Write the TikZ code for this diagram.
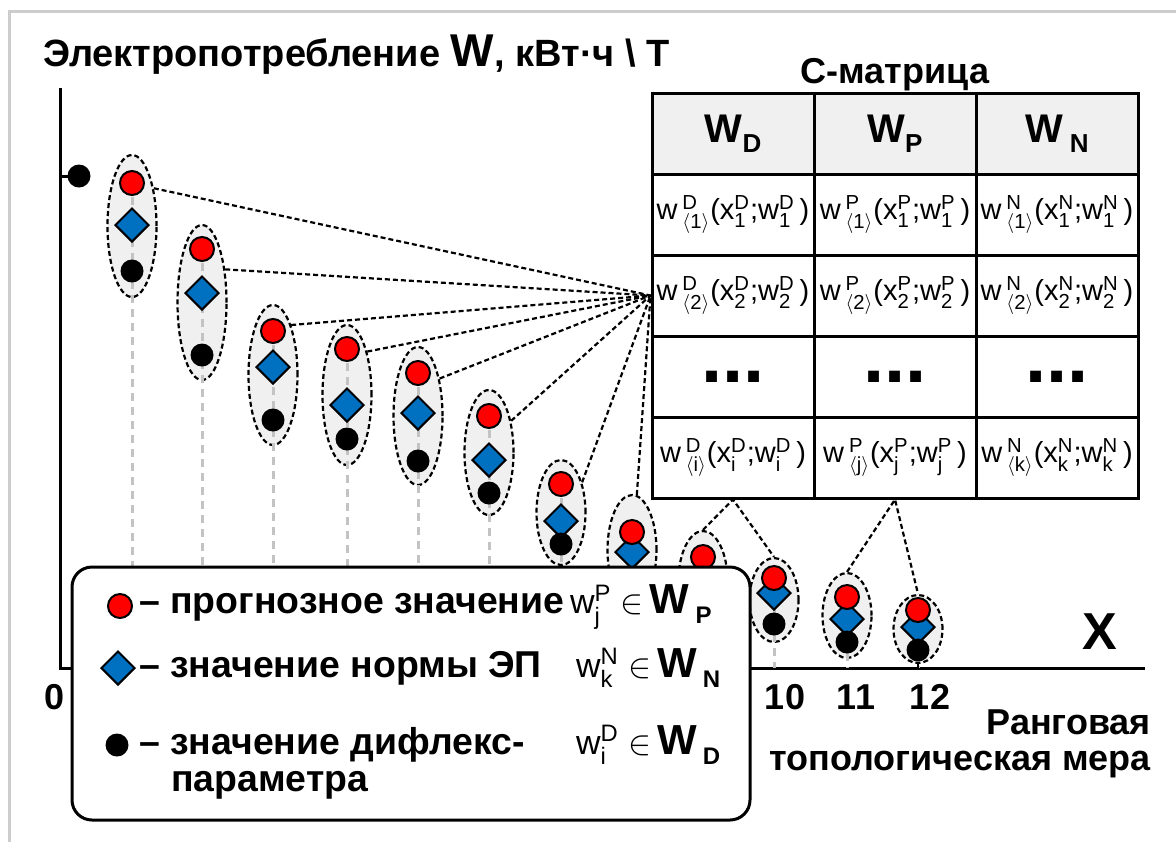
\documentclass[tikz,border=0pt]{standalone}
\usepackage{fontspec}
\usepackage{amsmath}
\setmainfont{Liberation Sans}
\usetikzlibrary{shapes.geometric}
\definecolor{cellgray}{RGB}{240,240,240}
\definecolor{stemgray}{RGB}{195,195,195}
\definecolor{framegray}{RGB}{205,205,205}
\definecolor{normblue}{RGB}{0,112,192}
\definecolor{progred}{RGB}{255,0,0}
% cell of the C-matrix: w^{set}_{<no>}(x^{set}_{idx};w^{set}_{idx})
\newcommand\wcell[3]{w\,$^{\text{#1}}_{\langle\text{#2}\rangle}$(x$^{\text{#1}}_{\text{#3}}$;w$^{\text{#1}}_{\text{#3}}$\,)}
\newcommand\wset[1]{{\fontsize{21}{22}\selectfont W}\,\raisebox{-5pt}{\fontsize{12}{12}\selectfont #1}}
\newcommand\wmemb[3]{{\mdseries\fontsize{17}{19}\selectfont w$^{\text{#1}}_{\text{#2}}$ $\in$}\,\wset{#3}}

\begin{document}
\begin{tikzpicture}[x=0.5pt, y=-0.5pt, font=\fontsize{18}{20}\selectfont\bfseries,
    axisline/.style={line width=1.5pt},
    stem/.style={draw=stemgray, line width=1.5pt, dash pattern=on 4pt off 3pt},
    grp/.style={ellipse, draw, fill=cellgray, line width=1.1pt, dash pattern=on 2.5pt off 1.5pt, inner sep=0pt},
    fan/.style={line width=1.1pt, dash pattern=on 2.5pt off 1.5pt},
    prog/.style={circle, draw, fill=progred, line width=1pt, minimum size=12pt, inner sep=0pt},
    norm/.style={diamond, draw, fill=normblue, line width=1pt, minimum size=17pt, inner sep=0pt},
    dfx/.style={circle, fill=black, minimum size=11.5pt, inner sep=0pt},
    legtext/.style={anchor=west, font=\fontsize{18.7}{20}\selectfont\bfseries},
    cell/.style={draw, fill=white, line width=1.5pt, minimum width=81pt, minimum height=40.5pt, inner sep=0pt, font=\fontsize{14.5}{16}\selectfont},
    dots/.style={cell, font=\fontsize{38}{38}\selectfont\bfseries},
    head/.style={cell, fill=cellgray, font=\fontsize{20}{20}\selectfont\bfseries}]
  \useasboundingbox (0,0) rectangle (1176,842);
  \draw[framegray, line width=1.5pt] (9,842) -- (9,11) -- (1176,11);

  % axes
  \draw[axisline] (60,88) -- (60,668) -- (1145,668);
  \draw[axisline] (60,176) -- (79,176);
  \node[dfx] (d0) at (79,176) {};
  \node at (55,697) {0};
  \node at (785,697) {10};
  \node at (856,697) {11};
  \node at (930,697) {12};
  \node at (1100,632) {\fontsize{26}{26}\selectfont X};
  \node[anchor=east] at (1158,722) {Ранговая};
  \node[anchor=east] at (1158,765) {топологическая мера};
  \node[anchor=west, font=\fontsize{19}{20}\selectfont\bfseries] at (36,55) {Электропотребление {\fontsize{23}{22}\selectfont W}, кВт·ч \textbackslash{} T};

  % groups of values
  \foreach \i/\x/\r/\d/\b/\t/\h in {1/132/183/225/271/155/297, 2/202/249/293/355/225/380,
      3/273/331/367/420/305/445, 4/347/349/405/439/325/465, 5/418/373/413/461/347/485,
      6/489/416/460/493/390/515, 7/561/484/521/544/460/565, 8/632/532/552/585/495/605,
      9/703/557/580/610/531/630, 10/774/578/593/624/558/642, 11/847/597/619/642/573/658,
      12/918/610/627/650/595/663}{
    \node[grp, minimum width=24.5pt, minimum height={(\h-\t)*0.5pt}] (e\i) at (\x,{(\t+\h)/2}) {};
    \draw[stem] (\x,\r) -- (\x,668);
    \node[norm] (n\i) at (\x,\d) {};
    \node[prog] (p\i) at (\x,\r) {};
    \node[dfx] (b\i) at (\x,\b) {};
  }
  \draw[line width=1pt] (b12) -- (918,668);

  % C-matrix
  \node at (895,75) {С-матрица};
  \node[head] (hD) at (733,133.5) {W\raisebox{-5pt}{\fontsize{13}{13}\selectfont D}};
  \node[head] (hP) at (895,133.5) {W\raisebox{-5pt}{\fontsize{13}{13}\selectfont P}};
  \node[head] (hN) at (1057,133.5) {W\,\raisebox{-5pt}{\fontsize{13}{13}\selectfont N}};
  \node[cell] (r1D) at (733,214.5) {\wcell{D}{1}{1}};
  \node[cell] (r1P) at (895,214.5) {\wcell{P}{1}{1}};
  \node[cell] (r1N) at (1057,214.5) {\wcell{N}{1}{1}};
  \node[cell] (r2D) at (733,295.5) {\wcell{D}{2}{2}};
  \node[cell] (r2P) at (895,295.5) {\wcell{P}{2}{2}};
  \node[cell] (r2N) at (1057,295.5) {\wcell{N}{2}{2}};
  \node[dots] (r3D) at (733,376.5) {...};
  \node[dots] (r3P) at (895,376.5) {...};
  \node[dots] (r3N) at (1057,376.5) {...};
  \node[cell] (r4D) at (733,457.5) {\wcell{D}{i}{i}};
  \node[cell] (r4P) at (895,457.5) {\wcell{P}{j}{j}};
  \node[cell] (r4N) at (1057,457.5) {\wcell{N}{k}{k}};

  % links from groups to the matrix
  \foreach \i/\a in {1/60, 2/55, 3/70, 4/65, 5/60, 6/55, 7/55, 8/85}
    \draw[fan] (e\i.\a) -- (r2D.west);
  \draw[fan] (e9.north) -- (r4D.south) -- (e10.north);
  \draw[fan] (e11.north) -- (r4P.south) -- (e12.north);

  % legend
  \node[draw, fill=white, rounded corners=10pt, line width=1.5pt, minimum width=339pt, minimum height=126.5pt] (legend) at (411,693.5) {};
  \node[prog] (lp) at (120,606) {};
  \node[norm] (ln) at (118,668) {};
  \node[dfx] (ld) at (117,745) {};
  \node[legtext] at (132,607) {– прогнозное значение};
  \node[legtext] at (132,668) {– значение нормы ЭП};
  \node[legtext] at (132,745) {– значение дифлекс-};
  \node[legtext] at (164,785) {параметра};
  \node[anchor=west] at (563,607) {\wmemb{P}{j}{P}};
  \node[anchor=west] at (569,668) {\wmemb{N}{k}{N}};
  \node[anchor=west] at (569,745) {\wmemb{D}{i}{D}};
\end{tikzpicture}
\end{document}
